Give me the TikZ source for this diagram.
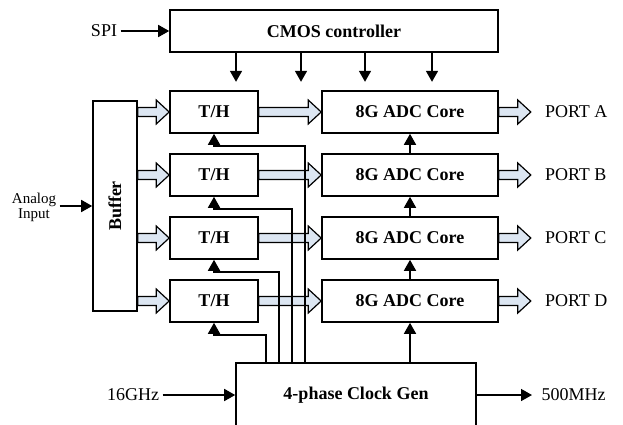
\documentclass[tikz,border=0pt]{standalone}
\usepackage{fontspec}
\setmainfont{Liberation Serif}
\usetikzlibrary{arrows.meta,calc,positioning}
\definecolor{busfill}{HTML}{DCE6F2}

\begin{document}
\begin{tikzpicture}[
    x=1pt, y=-1pt,
    every node/.style={font=\fontsize{18}{20}\selectfont},
    blk/.style={draw, line width=1.6pt, font=\fontsize{18}{20}\selectfont\bfseries},
    th/.style={blk, minimum width=88pt, minimum height=42pt},
    core/.style={blk, minimum width=176pt, minimum height=42pt},
    sig/.style={line width=1.6pt, -{Triangle[length=11pt,width=12pt]}},
    bus/.style={draw, line width=1.2pt, fill=busfill, line join=miter,
      to path={let \p1=(\tikztostart), \p2=(\tikztotarget) in
        (\x1,\y1+4.5pt) -- (\x2-13pt,\y1+4.5pt) -- (\x2-13pt,\y1+12pt) -- (\x2,\y1)
        -- (\x2-13pt,\y1-12pt) -- (\x2-13pt,\y1-4.5pt) -- (\x1,\y1-4.5pt) -- cycle}}
  ]
  \clip (0,0) rectangle (623,424);

  % controller and buffer
  \node[blk, minimum width=328pt, minimum height=42pt] (cmos) at (334,31) {CMOS controller};
  \node[blk, minimum width=44pt, minimum height=210pt] (buf) at (115,206) {\rotatebox{90}{Buffer}};
  \node (spi) at (104,31) {SPI};
  \node[align=center, font=\fontsize{15}{15}\selectfont] (ain) at (34,207) {Analog\\Input};

  % four channels
  \foreach \i/\y/\p in {1/112/A,2/175/B,3/238/C,4/301/D} {
    \node[th] (th\i) at (214,\y) {T/H};
    \node[core] (adc\i) at (410,\y) {8G ADC Core};
    \node[anchor=west, inner sep=0pt] (port\i) at ([xshift=46pt]adc\i.east) {PORT \p};
    \path[bus] (buf.east |- th\i) to (th\i.west);
    \path[bus] (th\i.east) to (adc\i.west);
    \path[bus] (adc\i.east) to ([xshift=-14pt]port\i.west);
  }

  % clock generator
  \node[blk, minimum width=240pt, minimum height=64pt] (clk) at (356,395) {4-phase Clock Gen};
  \node (ghz) at (133,395) {16GHz};
  \node[anchor=west] (mhz) at (538,395) {500MHz};

  \draw[sig] (spi.east) -- (cmos.west);
  \draw[sig] (ain.east |- buf.west) -- (buf.west);
  \draw[sig] (ghz.east) -- (clk.west);
  \draw[sig, shorten >=6pt] (clk.east) -- (mhz.west);

  \foreach \x in {236,301,365,432}
    \draw[sig] (cmos.south -| \x,0) -- ++(0,29);

  \foreach \i/\dx in {1/-51,2/-64,3/-77,4/-90}
    \draw[sig] ([xshift=\dx pt]clk.north) |- ([yshift=-12pt]th\i.south) -- (th\i.south);

  \draw[sig] (clk.north -| adc4) -- (adc4.south);
  \foreach \a/\b in {4/3,3/2,2/1}
    \draw[sig] (adc\a.north) -- (adc\b.south);
\end{tikzpicture}
\end{document}
